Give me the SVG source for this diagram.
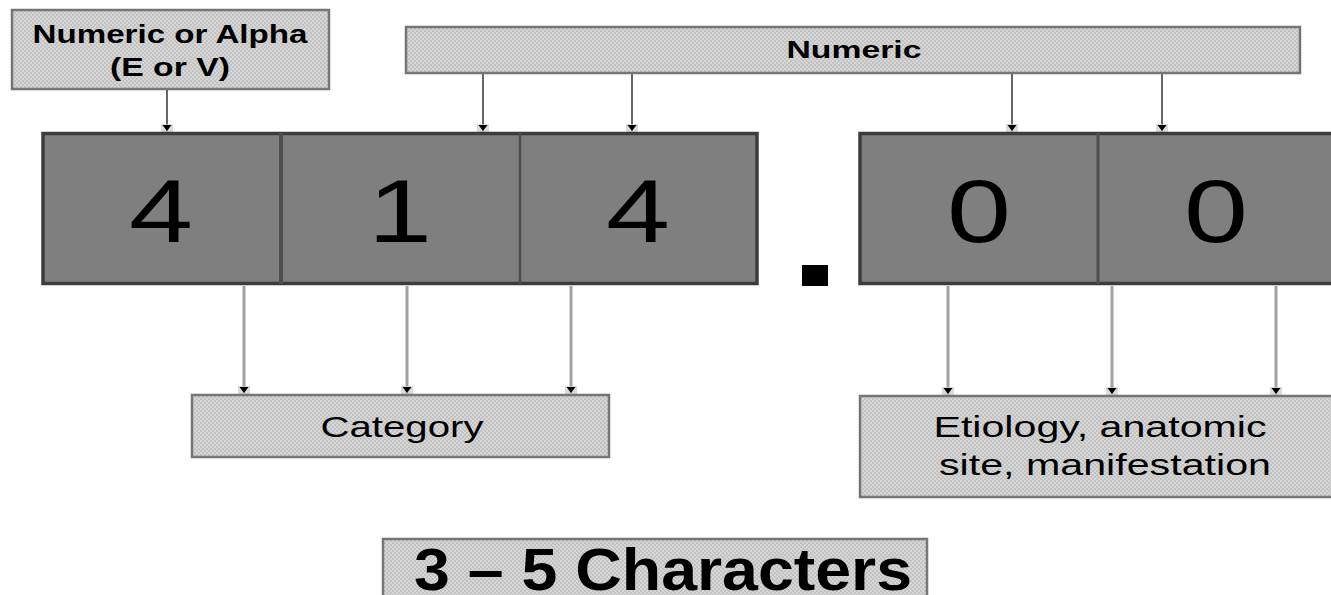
<svg xmlns="http://www.w3.org/2000/svg" width="1331" height="595" viewBox="0 0 1331 595">
<defs>
<pattern id="chk" width="4" height="4" patternUnits="userSpaceOnUse">
<rect width="4" height="4" fill="#c2c2c2"/>
<rect width="2" height="2" fill="#d6d6d6"/>
<rect x="2" y="2" width="2" height="2" fill="#d6d6d6"/>
</pattern>
<marker id="ah" viewBox="0 0 8 12" refX="8" refY="6" markerWidth="8" markerHeight="12" markerUnits="userSpaceOnUse" orient="auto">
<path d="M0,0 L8,0 L8,12 L0,12 Z" fill="#d2d2d2" opacity="0.8"/>
<path d="M1,1.5 L7,6 L1,10.5 Z" fill="#000"/>
</marker>
</defs>
<style>
.lab{fill:url(#chk);stroke:#767676;stroke-width:2.5}
.big{fill:#7f7f7f;stroke:#3c3c3c;stroke-width:3.5}
.div{stroke:#4e4e4e}
.t{font-family:"Liberation Sans",Arial,sans-serif;fill:#000;text-anchor:middle}
.b{font-weight:bold}
.dig{font-size:89px}
.up{stroke:#666;stroke-width:2;fill:none}
.dn{stroke:#a2a2a2;stroke-width:3;fill:none}
</style>
<rect width="1331" height="595" fill="#fff"/>

<g id="connectors">
<line class="up" x1="167" y1="90" x2="167" y2="132" marker-end="url(#ah)"/>
<line class="up" x1="483" y1="74" x2="483" y2="132" marker-end="url(#ah)" stroke="#8a8a8a"/>
<line class="up" x1="632" y1="74" x2="632" y2="132" marker-end="url(#ah)"/>
<line class="up" x1="1012" y1="74" x2="1012" y2="132" marker-end="url(#ah)"/>
<line class="up" x1="1162" y1="74" x2="1162" y2="132" marker-end="url(#ah)"/>
<line class="dn" x1="244" y1="286" x2="244" y2="394" marker-end="url(#ah)"/>
<line class="dn" x1="407" y1="286" x2="407" y2="394" marker-end="url(#ah)"/>
<line class="dn" x1="571" y1="286" x2="571" y2="394" marker-end="url(#ah)"/>
<line class="dn" x1="948" y1="286" x2="948" y2="395" marker-end="url(#ah)"/>
<line class="dn" x1="1112" y1="286" x2="1112" y2="395" marker-end="url(#ah)"/>
<line class="dn" x1="1276" y1="286" x2="1276" y2="395" marker-end="url(#ah)"/>
</g>

<g id="type-label">
<rect class="lab" x="12" y="10" width="317" height="79"/>
<text class="t b" x="170" y="43" font-size="25" textLength="275" lengthAdjust="spacingAndGlyphs">Numeric or Alpha</text>
<text class="t b" x="170" y="76" font-size="25" textLength="120" lengthAdjust="spacingAndGlyphs">(E or V)</text>
</g>

<g id="numeric-label">
<rect class="lab" x="406" y="27" width="894" height="46"/>
<text class="t b" x="854" y="58" font-size="24" textLength="135" lengthAdjust="spacingAndGlyphs">Numeric</text>
</g>

<g id="category-box">
<rect class="big" x="43" y="133.5" width="714" height="150"/>
<line class="div" x1="281" y1="133" x2="281" y2="284" stroke-width="4"/>
<line class="div" x1="520" y1="133" x2="520" y2="284" stroke-width="2.5"/>
<text class="t dig" x="161" y="242" textLength="64" lengthAdjust="spacingAndGlyphs">4</text>
<text class="t dig" x="400" y="242" textLength="64" lengthAdjust="spacingAndGlyphs">1</text>
<text class="t dig" x="638" y="242" textLength="64" lengthAdjust="spacingAndGlyphs">4</text>
</g>

<rect id="dot" x="802" y="265" width="26" height="21" fill="#000"/>

<g id="subcategory-box">
<rect class="big" x="860" y="133.5" width="480" height="150"/>
<line class="div" x1="1098" y1="133" x2="1098" y2="284" stroke-width="3"/>
<text class="t dig" x="979" y="242" textLength="64" lengthAdjust="spacingAndGlyphs">0</text>
<text class="t dig" x="1216" y="242" textLength="64" lengthAdjust="spacingAndGlyphs">0</text>
</g>

<g id="category-label">
<rect class="lab" x="192" y="395" width="417" height="62"/>
<text class="t" x="402" y="437" font-size="30" textLength="163" lengthAdjust="spacingAndGlyphs">Category</text>
</g>

<g id="etiology-label">
<rect class="lab" x="860" y="396" width="480" height="101"/>
<text class="t" x="1100" y="437" font-size="30" textLength="333" lengthAdjust="spacingAndGlyphs">Etiology, anatomic</text>
<text class="t" x="1105" y="475" font-size="30" textLength="332" lengthAdjust="spacingAndGlyphs">site, manifestation</text>
</g>

<g id="length-label">
<rect class="lab" x="383" y="539" width="544" height="70"/>
<text class="t b" x="663" y="590" font-size="59" textLength="498" lengthAdjust="spacingAndGlyphs">3 – 5 Characters</text>
</g>
</svg>
